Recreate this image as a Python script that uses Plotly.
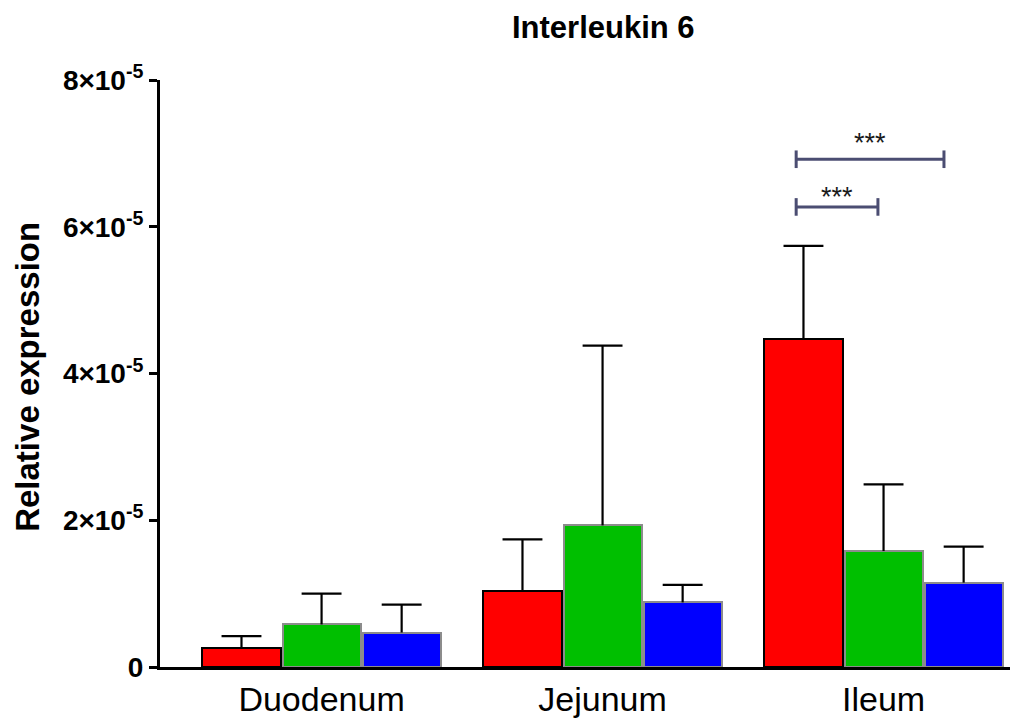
import plotly.graph_objects as go

# ---- data (values in units of 1e-5) ----
categories = ["Duodenum", "Jejunum", "Ileum"]
series_names = ["Group 1", "Group 2", "Group 3"]
red_vals = [0.26, 1.03, 4.47]
red_err = [0.16, 0.71, 1.27]
green_vals = [0.58, 1.93, 1.58]
green_err = [0.42, 2.45, 0.91]
blue_vals = [0.47, 0.88, 1.15]
blue_err = [0.38, 0.24, 0.49]
ytick_vals = [0, 2, 4, 6, 8]
ytick_text = ["0", "2×10<sup>-5</sup>", "4×10<sup>-5</sup>", "6×10<sup>-5</sup>", "8×10<sup>-5</sup>"]

# significance brackets (x in category units, y in 1e-5 units)
sig_x0 = [1.689, 1.689]
sig_x1 = [2.215, 1.980]
sig_y = [6.92, 6.27]
sig_star_y = [7.135, 6.405]
sig_label = ["***", "***"]

SCALE = 1e-5
fills = ["#ff0000", "#00bf00", "#0000ff"]
outlines = ["#000000", "#8c8c8c", "#8c8c8c"]
offsets = [-0.285, 0.0, 0.285]
bar_w = 0.278
cap_half = 0.071

fig = go.Figure()
vals_all = [red_vals, green_vals, blue_vals]
errs_all = [red_err, green_err, blue_err]

for k in range(3):
    xs = [i + offsets[k] for i in range(len(categories))]
    fig.add_trace(go.Bar(
        x=xs, y=[v * SCALE for v in vals_all[k]], width=bar_w,
        marker=dict(color=fills[k], line=dict(color=outlines[k], width=2)),
        name=series_names[k], showlegend=False,
    ))

# error bars (upper only) drawn as line traces
for k in range(3):
    ex, ey = [], []
    for i in range(len(categories)):
        xc = i + offsets[k]
        top = (vals_all[k][i] + errs_all[k][i]) * SCALE
        base = vals_all[k][i] * SCALE
        ex += [xc, xc, None, xc - cap_half, xc + cap_half, None]
        ey += [base, top, None, top, top, None]
    fig.add_trace(go.Scatter(x=ex, y=ey, mode="lines",
                             line=dict(color="black", width=2.2),
                             showlegend=False, hoverinfo="skip"))

# significance brackets
bc = "#4b4d72"
cap_h = 0.12
for x0, x1, y, sy, lab in zip(sig_x0, sig_x1, sig_y, sig_star_y, sig_label):
    fig.add_trace(go.Scatter(
        x=[x0, x1, None, x0, x0, None, x1, x1],
        y=[y * SCALE, y * SCALE, None, (y - cap_h) * SCALE, (y + cap_h) * SCALE, None,
           (y - cap_h) * SCALE, (y + cap_h) * SCALE],
        mode="lines", line=dict(color=bc, width=3),
        showlegend=False, hoverinfo="skip"))
    fig.add_annotation(x=(x0 + x1) / 2, y=sy * SCALE, text=lab, showarrow=False,
                       font=dict(family="Liberation Sans", size=27, color="#1a1a1a"),
                       yanchor="middle")

fig.add_annotation(text="<b>Interleukin 6</b>", xref="paper", yref="paper",
                   x=0.522, y=1.0895, showarrow=False, xanchor="center", yanchor="middle",
                   font=dict(family="Liberation Sans", size=31, color="black"))
fig.add_annotation(text="<b>Relative expression</b>", xref="paper", yref="paper",
                   x=-0.156, y=0.495, showarrow=False, textangle=-90,
                   xanchor="center", yanchor="middle",
                   font=dict(family="Liberation Sans", size=33, color="black"))

fig.update_layout(
    width=1010, height=718,
    margin=dict(l=160, r=0, t=80, b=46),
    plot_bgcolor="white", paper_bgcolor="white",
    xaxis=dict(range=[-0.575, 2.45], tickvals=list(range(len(categories))),
               ticktext=categories, showline=True, linecolor="black", linewidth=3,
               ticks="", showgrid=False, zeroline=False,
               tickfont=dict(family="Liberation Sans", size=34, color="black")),
    yaxis=dict(range=[0, 8 * SCALE], tickvals=[v * SCALE for v in ytick_vals],
               ticktext=["<b>" + t + "</b>" for t in ytick_text],
               showline=True, linecolor="black", linewidth=3,
               ticks="outside", ticklen=8, tickwidth=3, tickcolor="black",
               showgrid=False, zeroline=False,
               tickfont=dict(family="Liberation Sans", size=28, color="black")),
    bargap=0,
)

fig.write_html("out.html")
